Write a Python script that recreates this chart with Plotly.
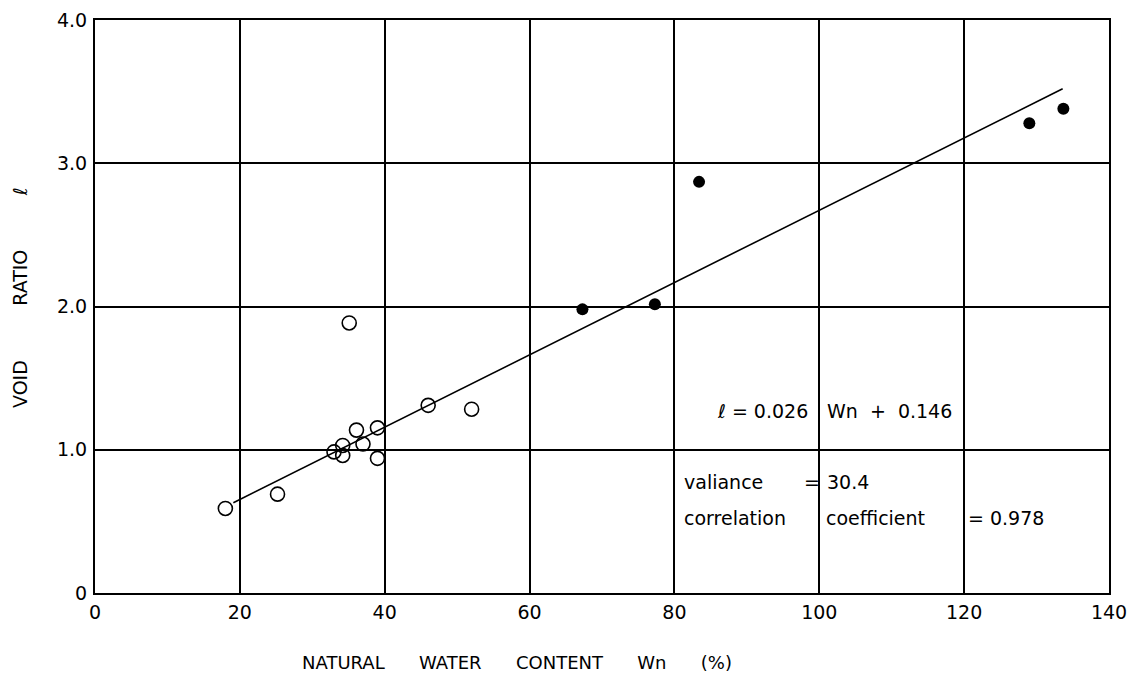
import plotly.graph_objects as go

# Data
open_wn = [18.0, 25.2, 35.1, 33.0, 34.2, 34.2, 36.1, 37.0, 39.0, 39.0, 46.0, 52.0]
open_e = [0.59, 0.69, 1.885, 0.985, 1.03, 0.96, 1.137, 1.04, 1.153, 0.94, 1.31, 1.283]
filled_wn = [67.3, 77.3, 83.4, 129.0, 133.7]
filled_e = [1.98, 2.015, 2.87, 3.28, 3.38]
line_wn = [19.1, 133.6]
line_e = [0.63, 3.52]

x_ticks = [0, 20, 40, 60, 80, 100, 120, 140]
x_ticktext = ["0", "20", "40", "60", "80", "100", "120", "140"]
y_ticks = [0, 1, 2, 3, 4]
y_ticktext = ["0", "1.0", "2.0", "3.0", "4.0"]

FONT = "DejaVu Sans"
NB = "\u00a0"

fig = go.Figure()
fig.add_trace(go.Scatter(x=line_wn, y=line_e, mode="lines",
                         line=dict(color="black", width=1.6), showlegend=False))
fig.add_trace(go.Scatter(x=open_wn, y=open_e, mode="markers",
                         marker=dict(symbol="circle-open", size=14, color="black",
                                     line=dict(width=1.6, color="black")),
                         showlegend=False))
fig.add_trace(go.Scatter(x=filled_wn, y=filled_e, mode="markers",
                         marker=dict(symbol="circle", size=12, color="black"),
                         showlegend=False))

axis_common = dict(showgrid=True, gridcolor="black", gridwidth=1.6,
                   showline=True, linecolor="black", linewidth=2, mirror=True,
                   ticks="", zeroline=False, automargin=False,
                   tickfont=dict(family=FONT, size=19, color="black"))

fig.update_xaxes(range=[0, 140], tickvals=x_ticks, ticktext=x_ticktext,
                 ticklabelstandoff=1, **axis_common)
fig.update_yaxes(range=[0, 4], tickvals=y_ticks, ticktext=y_ticktext,
                 ticklabelstandoff=2, **axis_common)

ann_font = dict(family=FONT, size=19, color="black")
annotations = [
    dict(x=85.6, y=1.27, text="<i>ℓ</i> = 0.026", xanchor="left"),
    dict(x=100.8, y=1.27, text="Wn" + NB + NB + "+" + NB + NB + "0.146", xanchor="left"),
    dict(x=81.0, y=0.774, text="valiance", xanchor="left"),
    dict(x=97.6, y=0.774, text="=", xanchor="left"),
    dict(x=100.8, y=0.774, text="30.4", xanchor="left"),
    dict(x=81.0, y=0.523, text="correlation", xanchor="left"),
    dict(x=100.6, y=0.523, text="coefficient", xanchor="left"),
    dict(x=120.2, y=0.523, text="=" + NB + "0.978", xanchor="left"),
]
for a in annotations:
    a.update(xref="x", yref="y", showarrow=False, yanchor="middle", font=ann_font)

# plot area in page pixels: x 95..1109, y 19.5..593 (page has an 8px body offset)
annotations.append(dict(
    xref="paper", yref="paper", x=(517 - 95) / (1109 - 95), y=(593 - 662) / 573,
    text="NATURAL" + NB * 6 + "WATER" + NB * 6 + "CONTENT" + NB * 6 + "Wn" + NB * 6 + "(%)",
    showarrow=False, xanchor="center", yanchor="middle",
    font=dict(family=FONT, size=18, color="black")))
annotations.append(dict(
    xref="paper", yref="paper", x=(20 - 95) / (1109 - 95), y=(593 - 298) / 573,
    text="VOID" + NB * 9 + "RATIO" + NB * 9 + "<i>ℓ</i>",
    textangle=-90, showarrow=False, xanchor="center", yanchor="middle",
    font=dict(family=FONT, size=19, color="black")))

fig.update_layout(
    width=1132, height=669,
    margin=dict(l=87, r=31, t=12, b=84),
    paper_bgcolor="white", plot_bgcolor="white",
    annotations=annotations,
    showlegend=False,
)

fig.write_html("out.html")
